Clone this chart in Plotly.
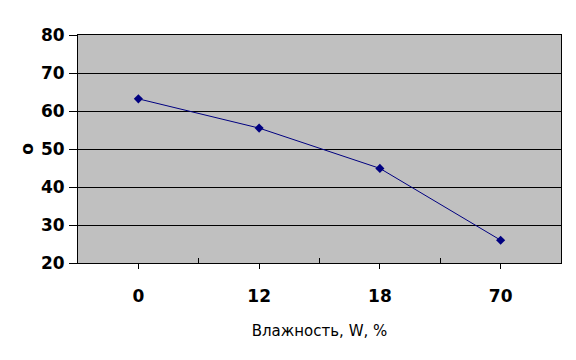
import plotly.graph_objects as go

categories = ["0", "12", "18", "70"]
values = [63.2, 55.5, 44.9, 26.0]
y_ticks = [20, 30, 40, 50, 60, 70, 80]

x_pos = list(range(len(categories)))

fig = go.Figure()
fig.add_trace(go.Scatter(
    x=x_pos, y=values, mode="lines+markers",
    line=dict(color="#000080", width=1),
    marker=dict(symbol="diamond", size=7, color="#000080"),
    showlegend=False,
))

font_bold = dict(family="DejaVu Sans", size=17, color="#000000")

# page body has an 8px default margin; figure sized so it fits the 576x360 window
fig.update_layout(
    width=560, height=344,
    margin=dict(l=70, r=7, t=27, b=89, autoexpand=False),
    paper_bgcolor="white",
    plot_bgcolor="#C0C0C0",
    xaxis=dict(
        range=[-0.5, len(categories) - 0.5],
        tickmode="array", tickvals=x_pos,
        ticktext=["<b>%s</b>" % c for c in categories],
        tickfont=font_bold,
        ticks="outside", ticklen=5, tickcolor="#000000",
        ticklabelstandoff=13,
        minor=dict(tickvals=[0.5, 1.5, 2.5], ticks="inside", ticklen=5, tickcolor="#000000"),
        showgrid=False, zeroline=False,
        showline=True, linecolor="#000000", linewidth=1, mirror=True,
        title=dict(text="Влажность, W, %",
                   font=dict(family="DejaVu Sans", size=15, color="#000000"),
                   standoff=20),
        automargin=False,
        fixedrange=True,
    ),
    yaxis=dict(
        range=[20, 80],
        tickmode="array", tickvals=y_ticks,
        ticktext=["<b>%d</b>" % v for v in y_ticks],
        tickfont=font_bold,
        ticks="outside", ticklen=8, tickcolor="#000000",
        ticklabelstandoff=1,
        showgrid=True, gridcolor="#000000", gridwidth=1,
        zeroline=False,
        showline=True, linecolor="#000000", linewidth=1, mirror=True,
        title=dict(text="<b>о</b>",
                   font=dict(family="DejaVu Sans", size=17, color="#000000"),
                   standoff=2),
        automargin=False,
        fixedrange=True,
    ),
)

fig.write_html("out.html")
